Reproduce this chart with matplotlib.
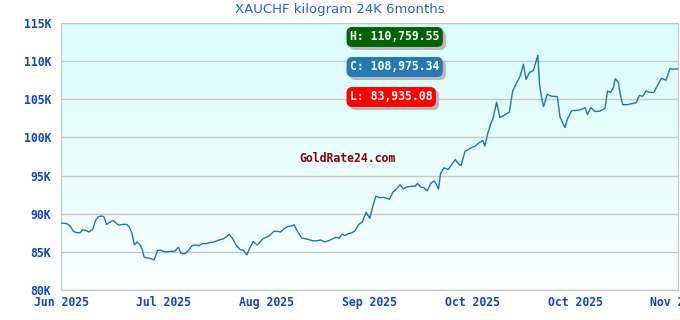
import numpy as np
import matplotlib
matplotlib.use("Agg")
import matplotlib.pyplot as plt

# day offset within the 6-month window, and price in thousands of CHF
days = [0.2, 1.7, 2.7, 3.7, 4.7, 5.7, 6.4, 7.4, 8.4, 9.5, 10.3, 11.1, 12.1, 12.8,
        13.6, 14.6, 15.6, 16.3, 17.3, 18.3, 19.6, 20.3, 21.1, 21.9, 22.7, 23.6,
        24.2, 24.8, 25.9, 26.8, 27.8, 28.8, 29.8, 30.6, 31.5, 32.5, 34.0, 35.0,
        35.8, 37.0, 38.0, 39.0, 40.2, 41.2, 42.1, 43.2, 44.1, 45.7, 47.4, 48.4,
        49.4, 50.2, 51.1, 52.2, 53.4, 54.4, 55.4, 56.4, 57.3, 58.5, 60.2, 61.1,
        62.1, 63.5, 64.3, 65.5, 66.5, 67.5, 68.8, 69.5, 70.5, 71.8, 73.1, 74.0,
        75.1, 76.3, 77.4, 78.7, 80.0, 81.2, 82.0, 83.0, 83.8, 84.7, 85.7, 86.7,
        87.7, 88.7, 89.9, 91.0, 92.1, 93.0, 93.9, 95.1, 96.3, 97.9, 99.1, 100.1,
        101.1, 102.1, 103.1, 104.6, 105.6, 106.3, 107.3, 108.3, 109.2, 110.3,
        111.3, 112.0, 112.6, 113.2, 114.2, 115.5, 116.5, 117.6, 118.7, 119.3,
        120.5, 121.5, 122.5, 123.5, 124.7, 125.8, 126.4, 127.3, 128.1, 128.9,
        129.9, 130.9, 132.1, 133.7, 134.7, 135.8, 136.9, 137.9, 138.7, 139.7,
        140.9, 141.7, 142.2, 142.7, 143.4, 143.9, 145.0, 146.3, 148.0, 148.8,
        149.6, 150.3, 151.0, 152.3, 154.0, 155.3, 156.3, 157.0, 158.0, 159.2,
        160.7, 162.2, 163.0, 163.9, 164.7, 165.3, 166.2, 166.9, 167.5, 168.9,
        171.5, 172.5, 173.5, 174.5, 175.4, 176.8, 178.1, 179.1, 180.4, 181.6,
        182.6, 183.8]
prices = [88.78, 88.7, 88.4, 87.7, 87.5, 87.5, 87.9, 87.8, 87.6, 88.0, 89.1, 89.6,
          89.7, 89.6, 88.6, 88.9, 89.1, 88.8, 88.5, 88.6, 88.6, 88.3, 87.5, 85.9,
          86.3, 85.9, 85.35, 84.3, 84.2, 84.1, 83.94, 85.2, 85.2, 85.05, 85.0,
          85.05, 85.1, 85.6, 84.8, 84.75, 85.2, 85.8, 85.9, 85.8, 86.1, 86.05,
          86.2, 86.3, 86.6, 86.7, 87.0, 87.3, 86.8, 85.9, 85.3, 85.2, 84.6, 85.6,
          86.35, 85.9, 86.7, 86.9, 87.1, 87.7, 87.7, 87.6, 88.0, 88.3, 88.4,
          88.55, 87.7, 86.8, 86.7, 86.6, 86.45, 86.45, 86.55, 86.3, 86.5, 86.75,
          86.9, 86.8, 87.3, 87.15, 87.4, 87.5, 87.75, 88.55, 88.95, 90.2, 89.4,
          91.0, 92.3, 92.1, 92.15, 91.9, 92.9, 93.25, 93.8, 93.25, 93.5, 93.6,
          93.6, 93.95, 93.5, 93.4, 93.0, 94.0, 94.3, 93.8, 93.25, 95.3, 96.0,
          95.8, 96.45, 97.1, 96.45, 96.3, 98.2, 98.4, 98.7, 98.85, 99.3, 99.6,
          98.85, 100.6, 101.7, 102.6, 104.6, 102.6, 102.9, 103.3, 106.1, 107.1,
          108.0, 109.6, 107.6, 108.5, 108.8, 110.0, 110.76, 107.0, 105.0, 104.05,
          105.65, 105.4, 105.35, 102.7, 101.9, 101.3, 102.4, 103.5, 103.55, 103.7,
          103.9, 103.0, 103.9, 103.4, 103.45, 103.8, 106.1, 105.9, 106.5, 107.7,
          107.2, 105.4, 104.3, 104.3, 104.55, 105.5, 105.4, 106.1, 105.9, 105.9,
          107.0, 107.75, 107.5, 109.0, 108.95, 108.98]

x_labels = ["Jun 2025", "Jul 2025", "Aug 2025", "Sep 2025", "Oct 2025", "Oct 2025", "Nov 2025"]
y_ticks = [80, 85, 90, 95, 100, 105, 110, 115]
title = "XAUCHF kilogram 24K 6months"
high_txt = "H: 110,759.55"
close_txt = "C: 108,975.34"
low_txt = "L: 83,935.08"

blue_txt = "#1045c8"
mono = "DejaVu Sans Mono"

fig = plt.figure(figsize=(6.8, 3.2), dpi=100)
ax = fig.add_axes([61 / 680, 1 - 290 / 320, 617 / 680, 267 / 320])

ax.set_xlim(0, 184)
ax.set_ylim(80, 115)

# background gradient, light cyan at top fading to near white
grad = np.linspace(0, 1, 256).reshape(-1, 1)
cmap = matplotlib.colors.LinearSegmentedColormap.from_list("bg", ["#dafcfc", "#f8ffff"])
ax.imshow(grad, cmap=cmap, aspect="auto", extent=[0, 184, 80, 115], origin="upper", zorder=0)

ax.set_yticks(y_ticks)
ax.set_yticklabels([f"{v}K" for v in y_ticks])
ax.set_xticks(np.linspace(0, 184, len(x_labels)))
ax.set_xticklabels(x_labels)
ax.grid(axis="y", color="#c8c8c8", linewidth=1)
ax.set_axisbelow(True)
ax.tick_params(length=0, colors=blue_txt, labelsize=8.3)
ax.tick_params(axis="y", pad=7)
ax.tick_params(axis="x", pad=4)
for lab in ax.get_xticklabels() + ax.get_yticklabels():
    lab.set_fontfamily(mono)
    lab.set_fontweight("bold")
for sp in ax.spines.values():
    sp.set_color("#c8c8c8")

ax.plot(days, prices, color="#1f77b4", linewidth=1, zorder=3)

fig.text(340 / 680, 1 - 10 / 320, title, ha="center", va="center",
         color="#2f5fd0", fontsize=9.5)

ax.text(0.465, 0.494, "GoldRate24.com", transform=ax.transAxes, ha="center", va="center",
        color="#8b0000", fontfamily=mono, fontweight="bold", fontsize=8.3, zorder=4)

# H / C / L badges with a grey drop shadow
for txt, face, ypix in [(high_txt, "#006400", 37), (close_txt, "#2378b5", 67), (low_txt, "#ff0000", 97)]:
    for dx, dy, fc, tc, z in [(3, 3, "#b8b8b8", "#b8b8b8", 5), (0, 0, face, "white", 6)]:
        fig.text((350 + dx) / 680, 1 - (ypix + dy) / 320, txt, ha="left", va="center",
                 color=tc, fontfamily=mono, fontweight="bold", fontsize=8.3, zorder=z,
                 bbox=dict(boxstyle="round,pad=0.3,rounding_size=0.5", fc=fc, ec="none"))

fig.savefig("out.png", dpi=100)
